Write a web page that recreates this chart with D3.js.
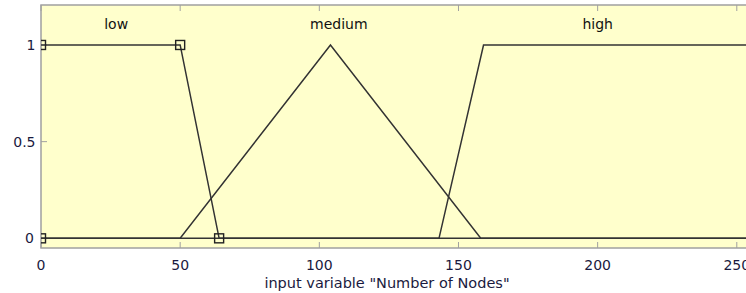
<!DOCTYPE html>
<html lang='en'>
<head>
  <meta charset='UTF-8'>
  <title>Membership functions</title>
  <style>
    body { margin: 0; background: #fff; }
    text { font-family: 'DejaVu Sans', Verdana, sans-serif; }
  </style>
</head>
<body>
  <script src='https://cdn.jsdelivr.net/npm/d3@7/dist/d3.min.js'></script>
  <script>
// canvas
const width = 746;
const height = 293;

// data: membership function names and their break points [x, y]
const mfNames = ['low', 'medium', 'high'];
const lowPts = [[0, 1], [50, 1], [64, 0]];
const mediumPts = [[0, 0], [50, 0], [104, 1], [158, 0], [256, 0]];
const highPts = [[0, 0], [143, 0], [159, 1], [256, 1]];
const labelX = [27, 107, 200];       // where each name sits on the x axis
const xTicks = [0, 50, 100, 150, 200, 250];
const yTicks = [0, 0.5, 1];
const xTitle = 'input variable "Number of Nodes"';

const svg = d3.select('body').append('svg')
    .attr('width', width)
    .attr('height', height);

// scales (plot runs past the right edge of the window)
const x = d3.scaleLinear().domain([0, 256]).range([41, 753.5]);
const y = d3.scaleLinear().domain([-0.05, 1.2]).range([248, 6.3]);

// clip for everything drawn inside the box
svg.append('clipPath').attr('id', 'plot')
  .append('rect')
    .attr('x', x(0)).attr('y', 5)
    .attr('width', x(256) - x(0)).attr('height', 243);

// yellow plot box
svg.append('rect')
    .attr('x', x(0)).attr('y', 5)
    .attr('width', x(256) - x(0)).attr('height', 243)
    .attr('fill', '#ffffcc')
    .attr('stroke', '#a0a0a0')
    .attr('stroke-width', 1.5);

// tick marks inside the box (top and bottom)
xTicks.forEach(t => {
  svg.append('line').attr('x1', x(t)).attr('x2', x(t)).attr('y1', 248).attr('y2', 242)
      .attr('stroke', '#a0a0a0');
  svg.append('line').attr('x1', x(t)).attr('x2', x(t)).attr('y1', 5).attr('y2', 11)
      .attr('stroke', '#a0a0a0');
});
yTicks.forEach(t => {
  svg.append('line').attr('x1', 41).attr('x2', 47).attr('y1', y(t)).attr('y2', y(t))
      .attr('stroke', '#a0a0a0');
});

// tick labels
svg.selectAll('.xl').data(xTicks).enter().append('text')
    .attr('x', d => x(d)).attr('y', 270)
    .attr('text-anchor', 'middle')
    .attr('font-size', 14).attr('fill', '#1a1a40')
    .text(d => d);
svg.selectAll('.yl').data(yTicks).enter().append('text')
    .attr('x', d => d === 0 ? 34 : 35.5).attr('y', d => y(d) + 5)
    .attr('text-anchor', 'end')
    .attr('font-size', 14).attr('fill', '#1a1a40')
    .text(d => d);

// axis title
svg.append('text')
    .attr('x', 387).attr('y', 287.5)
    .attr('text-anchor', 'middle')
    .attr('font-size', 14.5).attr('fill', '#1a1a40')
    .text(xTitle);

const inner = svg.append('g').attr('clip-path', 'url(#plot)');

// membership curves
const line = d3.line().x(d => x(d[0])).y(d => y(d[1]));
const lowFull = [[0, 1], [50, 1], [64, 0], [256, 0]];
[lowFull, mediumPts, highPts].forEach(pts => {
  inner.append('path')
      .attr('d', line(pts))
      .attr('fill', 'none')
      .attr('stroke', '#333')
      .attr('stroke-width', 1.5);
});

// square handles on the "low" curve
const sq = 9;
lowPts.concat([[0, 0]]).forEach(p => {
  inner.append('rect')
      .attr('x', x(p[0]) - sq / 2).attr('y', y(p[1]) - sq / 2)
      .attr('width', sq).attr('height', sq)
      .attr('fill', 'none')
      .attr('stroke', '#222')
      .attr('stroke-width', 1.4);
});

// names
svg.selectAll('.mf').data(mfNames).enter().append('text')
    .attr('x', (d, i) => x(labelX[i])).attr('y', 29)
    .attr('text-anchor', 'middle')
    .attr('font-size', 14).attr('fill', '#111')
    .text(d => d);
  </script>
</body>
</html>
